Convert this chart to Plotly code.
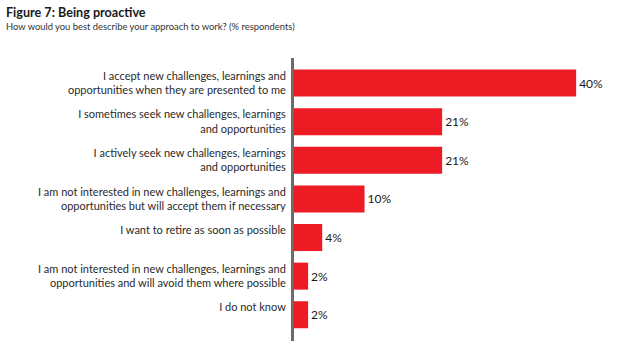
import plotly.graph_objects as go

categories = [
    "I accept new challenges, learnings and<br>opportunities when they are presented to me",
    "I sometimes seek new challenges, learnings<br>and opportunities",
    "I actively seek new challenges, learnings<br>and opportunities",
    "I am not interested in new challenges, learnings and<br>opportunities but will accept them if necessary",
    "I want to retire as soon as possible<br> ",
    "I am not interested in new challenges, learnings and<br>opportunities and will avoid them where possible",
    "I do not know<br> ",
]
values = [40, 21, 21, 10, 4, 2, 2]
value_labels = ["40%", "21%", "21%", "10%", "4%", "2%", "2%"]

title_text = "Figure 7: Being proactive"
subtitle_text = "How would you best describe your approach to work? (% respondents)"

fig = go.Figure(
    go.Bar(
        x=values,
        y=categories,
        orientation="h",
        marker=dict(color="#ED1C24", line=dict(width=0)),
        text=value_labels,
        textposition="outside",
        textfont=dict(family="Lato", size=12, color="#1a1a1a"),
        cliponaxis=False,
    )
)

fig.update_layout(
    width=630,
    height=353,
    margin=dict(l=294, r=20, t=58, b=12),
    paper_bgcolor="white",
    plot_bgcolor="white",
    bargap=0.3,
    showlegend=False,
    font=dict(family="Lato", color="#333333"),
    xaxis=dict(
        range=[0, 44.8],
        showgrid=False,
        zeroline=False,
        showticklabels=False,
        showline=False,
        fixedrange=True,
    ),
    yaxis=dict(
        type="category",
        range=[6.68, -0.65],
        showgrid=False,
        zeroline=False,
        showline=True,
        linecolor="#6b6b6b",
        linewidth=3,
        ticks="",
        ticklabelstandoff=3,
        tickfont=dict(family="Lato", size=11, color="#2a2a2a"),
    ),
)

fig.add_annotation(
    xref="paper", yref="paper", x=-290 / 316, y=1 + 45 / 283,
    xanchor="left", yanchor="middle", showarrow=False,
    text="<b>" + title_text + "</b>",
    font=dict(family="Lato", size=12.6, color="#1a1a1a"),
)
fig.add_annotation(
    xref="paper", yref="paper", x=-290 / 316, y=1 + 32 / 283,
    xanchor="left", yanchor="middle", showarrow=False,
    text=subtitle_text,
    font=dict(family="Lato", size=9.4, color="#333333"),
)

fig.write_html("out.html")
